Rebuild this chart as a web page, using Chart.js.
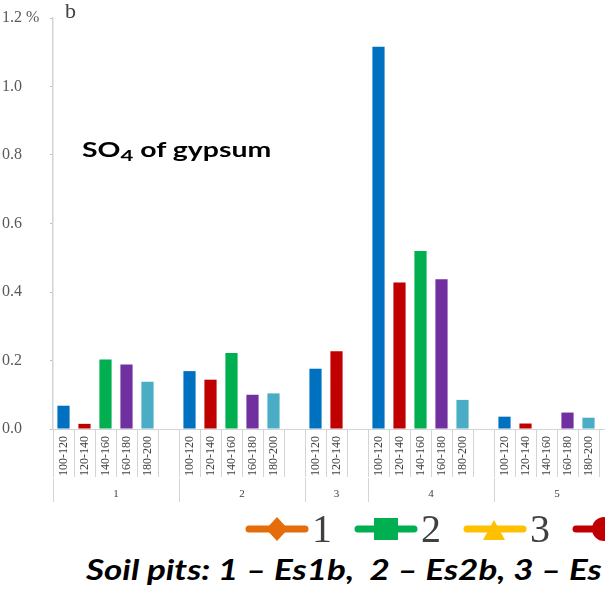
<!DOCTYPE html>
<html>
<head>
<meta charset="utf-8">
<script src="https://cdn.jsdelivr.net/npm/chart.js@4.4.1/dist/chart.umd.min.js"></script>
<style>
  html, body { margin: 0; padding: 0; background: #fff; overflow: hidden; }
  #page { position: relative; width: 605px; height: 605px; overflow: hidden; }
  #box { position: absolute; left: 0; top: 0; width: 625px; height: 510px; }
  .panel { position: absolute; left: 65px; top: 0px; font: 22px "Liberation Serif"; line-height: 22px; color: #404040; }
  .title { position: absolute; left: 82px; top: 137px; font: bold 20px Lato; line-height: 24px; color: #000;
           white-space: nowrap; transform: scaleX(1.42); transform-origin: 0 0; }
  .title sub { font-size: 0.78em; vertical-align: -0.25em; line-height: 0; }
  #legend { position: absolute; left: 245px; top: 510px; display: flex; align-items: center; white-space: nowrap; }
  .item { display: flex; align-items: center; margin-right: 22px; }
  .item span { font: 40px "Liberation Serif"; line-height: 38px; color: #404040; margin-left: 3px; }
  .pits { position: absolute; left: 86px; top: 552px; font: italic bold 28px Lato; line-height: 34px; color: #000;
          white-space: nowrap; transform: scaleX(1.25); transform-origin: 0 0; }
</style>
</head>
<body>
<div id="page">
  <div id="box"><canvas id="gypsumChart"></canvas></div>
  <div class="panel">b</div>
  <div class="title">SO<sub>4</sub> of gypsum</div>
  <div id="legend"></div>
  <div class="pits">Soil pits: 1 – Es1b,&nbsp; 2 – Es2b, 3 – Es</div>
</div>

<script>
// Depth intervals (cm) and their bar colours
const depths = ["100-120", "120-140", "140-160", "160-180", "180-200"];
const depthColors = ["#0070c0", "#c00000", "#00b050", "#7030a0", "#4bacc6"];

// Soil pits on the lower axis
const pits = ["1", "2", "3", "4", "5"];

// SO4 of gypsum, %, per pit in depth order
const pit1 = [0.068, 0.015, 0.203, 0.188, 0.138];
const pit2 = [0.169, 0.144, 0.222, 0.100, 0.104];
const pit3 = [0.176, 0.227];
const pit4 = [1.116, 0.428, 0.520, 0.437, 0.085];
const pit5 = [0.036, 0.016, null, 0.048, 0.033];

// Y axis ticks
const yTicks = [0, 0.2, 0.4, 0.6, 0.8, 1.0, 1.2];

// Legend pasted below the chart
const legendNames = ["1", "2", "3", "4"];
const legendColors = ["#e46c0a", "#00b050", "#ffc000", "#c00000"];
const legendShapes = ["diamond", "square", "triangle", "circle"];


// Flatten the pits into slots, one empty slot after each pit
const pitValues = [pit1, pit2, pit3, pit4, pit5];
let labels = [];
let values = [];
let colors = [];
let pitTicks = [];

pitValues.forEach((vals, p) => {

    const start = labels.length;
    pitTicks.push({ value: start - 0.5, label: "" });

    vals.forEach((v, i) => {
        labels.push(depths[i]);
        values.push(v);
        colors.push(depthColors[i]);
    });

    labels.push("");
    values.push(null);
    colors.push("#ffffff");

    pitTicks.push({ value: (start + labels.length - 1) / 2, label: pits[p] });

});
pitTicks.push({ value: labels.length - 0.5, label: "" });


new Chart(
    document.getElementById("gypsumChart"),
    {
        type: "bar",
        data: {
            labels: labels,
            datasets: [{
                data: values,
                backgroundColor: colors,
                categoryPercentage: 1,
                barPercentage: 0.58
            }]
        },
        options: {
            responsive: true,
            maintainAspectRatio: false,
            animation: false,
            layout: { padding: { top: 18, right: 5, bottom: 4, left: 2 } },
            plugins: {
                legend: { display: false },
                tooltip: { enabled: false }
            },
            scales: {
                x: {
                    grid: { drawOnChartArea: false, tickLength: 48, color: "#d4d4d4" },
                    border: { color: "#d4d4d4" },
                    ticks: {
                        autoSkip: false,
                        minRotation: 90,
                        maxRotation: 90,
                        padding: -41,
                        color: "#404040",
                        font: { family: "Liberation Serif", size: 12 }
                    },
                    afterFit: scale => { scale.height = 49; }
                },
                // pit numbers and the long pit separators
                x2: {
                    type: "linear",
                    position: "bottom",
                    offset: false,
                    min: -0.5,
                    max: labels.length - 0.5,
                    afterBuildTicks: axis => {
                        axis.ticks = pitTicks.map(t => ({ value: t.value }));
                    },
                    grid: {
                        offset: false,
                        drawOnChartArea: false,
                        tickLength: 24,
                        color: ctx => (pitTicks[ctx.index] && pitTicks[ctx.index].label) ? "rgba(0,0,0,0)" : "#d4d4d4"
                    },
                    border: { display: false },
                    ticks: {
                        autoSkip: false,
                        maxRotation: 0,
                        padding: -14,
                        color: "#404040",
                        font: { family: "Liberation Serif", size: 11 },
                        callback: (value, index) => pitTicks[index].label
                    },
                    afterFit: scale => { scale.height = 28; }
                },
                y: {
                    min: 0,
                    max: 1.2,
                    afterBuildTicks: axis => {
                        axis.ticks = yTicks.map(v => ({ value: v }));
                    },
                    grid: { drawOnChartArea: false, tickLength: 3, color: "#bfbfbf" },
                    border: { color: "#d4d4d4", width: 1.5 },
                    ticks: {
                        crossAlign: "far",
                        color: "#595959",
                        font: { family: "Liberation Serif", size: 16 },
                        callback: v => v === 1.2 ? "1.2 %" : v.toFixed(1)
                    },
                    afterFit: scale => { scale.width = 51; }
                }
            }
        }
    }
);


// Legend items: line with marker, then the label
function markerSvg(color, shape) {

    let mark = "";

    if (shape === "diamond") mark = `<polygon points="32,3 43,15 32,27 21,15" fill="${color}"/>`;
    if (shape === "square") mark = `<rect x="20" y="4" width="24" height="22" fill="${color}"/>`;
    if (shape === "triangle") mark = `<polygon points="31,6 42,26 20,26" fill="${color}"/>`;
    if (shape === "circle") mark = `<circle cx="32" cy="15" r="12" fill="${color}"/>`;

    return `<svg width="64" height="30"><line x1="4" y1="15" x2="60" y2="15" stroke="${color}" stroke-width="7" stroke-linecap="round"/>${mark}</svg>`;
}

const legend = document.getElementById("legend");

legendNames.forEach((name, i) => {
    const item = document.createElement("div");
    item.className = "item";
    item.innerHTML = markerSvg(legendColors[i], legendShapes[i]) + "<span>" + name + "</span>";
    legend.appendChild(item);
});
</script>
</body>
</html>
